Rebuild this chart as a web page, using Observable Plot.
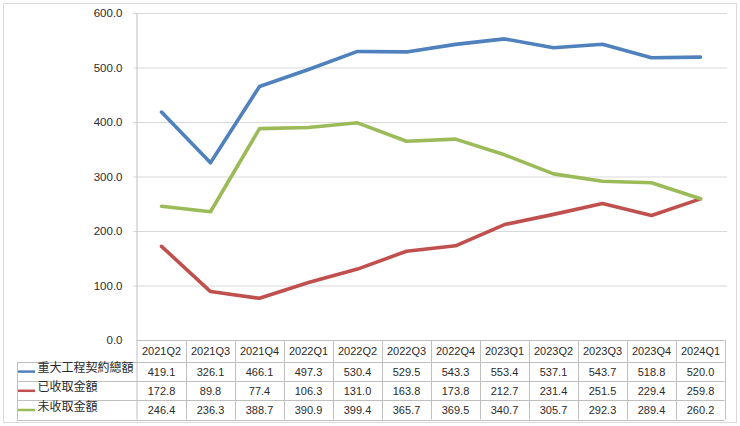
<!DOCTYPE html>
<html>
<head>
<meta charset="utf-8">
<script src="https://cdn.jsdelivr.net/npm/d3@7"></script>
<script src="https://cdn.jsdelivr.net/npm/@observablehq/plot@0.6"></script>
<style>
  html, body { margin: 0; padding: 0; background: #fff; }
  #chart svg { display: block; }
</style>
</head>
<body>
<div id="chart"></div>
<script>
const quarters = ["2021Q2","2021Q3","2021Q4","2022Q1","2022Q2","2022Q3","2022Q4","2023Q1","2023Q2","2023Q3","2023Q4","2024Q1"];
const totalContract = [419.1,326.1,466.1,497.3,530.4,529.5,543.3,553.4,537.1,543.7,518.8,520.0];
const received = [172.8,89.8,77.4,106.3,131.0,163.8,173.8,212.7,231.4,251.5,229.4,259.8];
const unreceived = [246.4,236.3,388.7,390.9,399.4,365.7,369.5,340.7,305.7,292.3,289.4,260.2];
const seriesNames = ["重大工程契約總額","已收取金額","未收取金額"];
const seriesColors = ["#4f81bd","#c0504d","#9bbb59"];
const yTicks = [0,100,200,300,400,500,600];

const series = [totalContract, received, unreceived];
const rows = series.map((vals, s) => vals.map((v, i) => ({q: quarters[i], v, s})));

const FONT = "'Liberation Sans', Arial, sans-serif";
const CJK = "'Noto Sans CJK TC', 'Noto Sans CJK SC', sans-serif";
const GRID = "#d9d9d9";
const TABLE = "#bfbfbf";
const TEXT = "#2b2b2b";

// row offsets below the x axis (pixels)
const headerDy = 11, rowH = 19.2, headerH = 22;

function tableFrame(index, scales, values, dimensions) {
  const x = scales.x, y = scales.y;
  const step = x(quarters[1]) - x(quarters[0]);
  const left = x(quarters[0]) - step / 2;
  const right = x(quarters[quarters.length - 1]) + step / 2;
  const y0 = y(0);
  const g = d3.create("svg:g").attr("fill", "none").attr("stroke", TABLE).attr("stroke-width", 1);
  // outer chart border
  g.append("rect").attr("x", 3.5).attr("y", 3.5).attr("width", 733).attr("height", 419).attr("stroke", GRID);
  // y axis line
  g.append("line").attr("x1", left + 0.5).attr("x2", left + 0.5).attr("y1", y(600)).attr("y2", y0 + headerH + 3 * rowH).attr("stroke", TABLE);
  // header top (x axis)
  g.append("line").attr("x1", left).attr("x2", right).attr("y1", y0 + 0.5).attr("y2", y0 + 0.5);
  // row lines
  for (let r = 0; r <= 3; r++) {
    const yy = Math.round(y0 + headerH + r * rowH) + 0.5;
    g.append("line").attr("x1", 17).attr("x2", right).attr("y1", yy).attr("y2", yy);
  }
  // left border of legend column
  g.append("line").attr("x1", 17.5).attr("x2", 17.5).attr("y1", y0 + headerH).attr("y2", y0 + headerH + 3 * rowH);
  // column separators
  for (let k = 1; k <= quarters.length; k++) {
    const xx = Math.round(left + k * step) + 0.5;
    g.append("line").attr("x1", xx).attr("x2", xx).attr("y1", y0).attr("y2", y0 + headerH + 3 * rowH);
  }
  // legend swatches
  seriesColors.forEach((c, s) => {
    const yy = y0 + headerH + (s + 0.5) * rowH;
    g.append("line").attr("x1", 18).attr("x2", 35).attr("y1", yy).attr("y2", yy).attr("stroke", c).attr("stroke-width", 2.5);
  });
  return g.node();
}

const chart = Plot.plot({
  width: 740,
  height: 426,
  marginTop: 13,
  marginBottom: 86,
  marginLeft: 133,
  marginRight: 13,
  style: {fontFamily: FONT, fontSize: "11.5px", color: TEXT, background: "#fff"},
  x: {type: "point", domain: quarters, padding: 0.5, axis: null},
  y: {domain: [0, 600], ticks: yTicks, tickFormat: d => d.toFixed(1), tickSize: 0, tickPadding: 11, label: null},
  marks: [
    Plot.ruleY(yTicks.filter(d => d > 0), {stroke: GRID, strokeWidth: 1}),
    tableFrame,
    ...series.map((vals, s) => Plot.line(rows[s], {
      x: "q", y: "v", stroke: seriesColors[s], strokeWidth: 3.6,
      strokeLinejoin: "round", strokeLinecap: "round"
    })),
    Plot.text(quarters, {x: d => d, y: 0, dy: headerDy, text: d => d, fill: TEXT, fontSize: 11}),
    ...series.map((vals, s) => Plot.text(rows[s], {
      x: "q", y: 0, dy: headerH + (s + 0.5) * rowH, text: d => d.v.toFixed(1), fill: TEXT, fontSize: 11
    })),
    ...seriesNames.map((name, s) => Plot.text([name], {
      frameAnchor: "bottom-left", dx: -96, dy: headerH + (s + 0.5) * rowH,
      text: d => d, textAnchor: "start", fill: TEXT, fontSize: 12, fontFamily: CJK
    }))
  ]
});
document.getElementById("chart").appendChild(chart);
</script>
</body>
</html>
